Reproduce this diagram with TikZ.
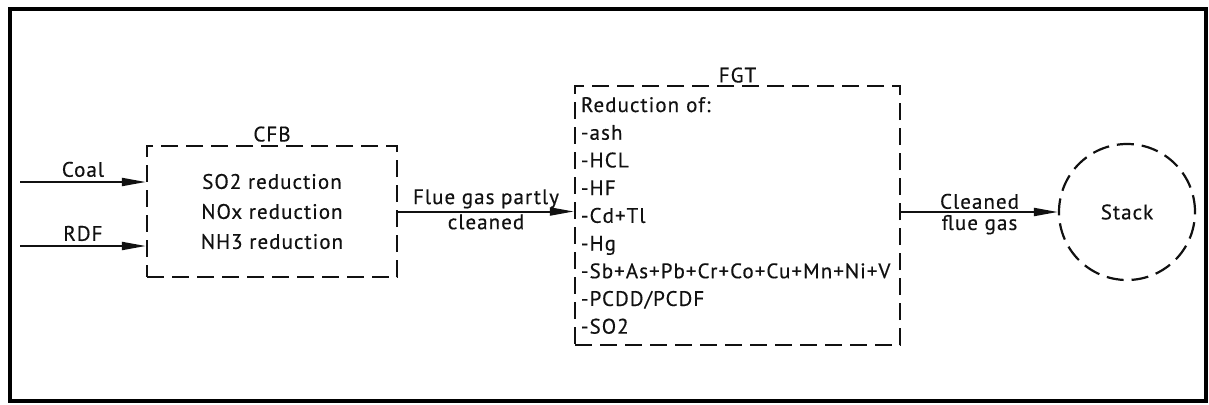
\documentclass[tikz,border=0pt]{standalone}
\usepackage{fontspec}
\setmainfont[LetterSpace=5,FakeBold=0.4]{PT Sans}
\usetikzlibrary{arrows.meta,positioning,calc}
\definecolor{pfdInk}{HTML}{111111}
\tikzset{
  pfdbox/.style={draw=pfdInk,line width=2.2pt,dash pattern=on 17pt off 8pt,rectangle,
                 inner sep=0pt,text=pfdInk},
  pfdstack/.style={pfdbox,circle,minimum size=136pt},
  pfdflow/.style={-{Triangle[length=24pt,width=8pt]},draw=pfdInk,line width=2pt},
  pfdlbl/.style={font=\fontsize{21}{25}\selectfont,text=pfdInk,inner sep=2pt,align=center},
  pfdframe/.style={draw=black,line width=4pt},
}

\begin{document}
\begin{tikzpicture}[x=1pt,y=-1pt]
  \useasboundingbox (0,0) rectangle (1209,404);
  \draw[pfdframe] (10,9) rectangle (1206,401);

  % Process units
  \node[pfdbox,minimum width=250pt,minimum height=131pt,align=center,
        font=\fontsize{21}{30}\selectfont,
        label={[pfdlbl,label distance=1pt]above:CFB}] (cfb) at (272,211.5)
        {SO2 reduction\\NOx reduction\\NH3 reduction};
  \node[pfdbox,minimum width=325pt,minimum height=259pt,text width=313pt,inner xsep=6pt,
        align=left,font=\fontsize{21}{27.7}\selectfont,
        label={[pfdlbl,label distance=0pt]above:FGT}] (fgt) at (737.5,215.5)
        {Reduction of:\\-ash\\-HCL\\-HF\\-Cd+Tl\\-Hg\\\mbox{-Sb+As+Pb+Cr+Co+Cu+Mn+Ni+V}\\-PCDD/PCDF\\-SO2};
  \node[pfdstack,font=\fontsize{21}{25}\selectfont] (stack) at (1127,212) {Stack};

  % Feed streams
  \coordinate (coalin) at (20,182);
  \coordinate (rdfin) at (20,246);
  \draw[pfdflow] (coalin) -- node[pfdlbl,above,yshift=2pt]{Coal} (coalin -| cfb.west);
  \draw[pfdflow] (rdfin) -- node[pfdlbl,above,yshift=2pt]{RDF} (rdfin -| cfb.west);

  % Gas path
  \draw[pfdflow] (cfb.east) -- node[pfdlbl,above]{Flue gas partly} node[pfdlbl,below]{cleaned}
        (cfb.east -| fgt.west);
  \draw[pfdflow] (fgt.east |- stack.west) -- node[pfdlbl,above]{Cleaned} node[pfdlbl,below]{flue gas}
        (stack.west);
\end{tikzpicture}
\end{document}
